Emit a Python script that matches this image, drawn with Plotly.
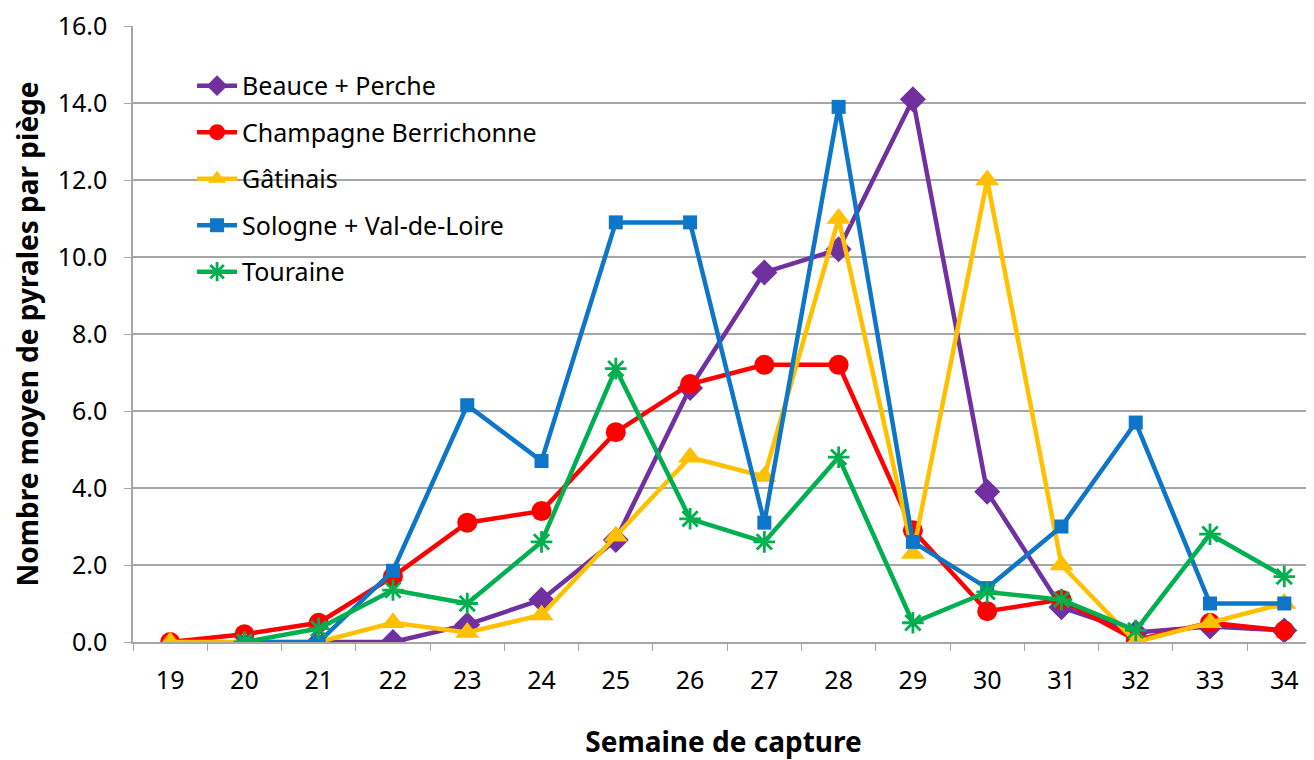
import plotly.graph_objects as go

weeks = ["19", "20", "21", "22", "23", "24", "25", "26", "27", "28", "29", "30", "31", "32", "33", "34"]
y_ticks = [0, 2, 4, 6, 8, 10, 12, 14, 16]

beauce = [None, None, 0.0, 0.0, 0.45, 1.1, 2.65, 6.6, 9.6, 10.2, 14.1, 3.9, 0.9, 0.25, 0.4, 0.3]
champagne = [0.0, 0.2, 0.5, 1.7, 3.1, 3.4, 5.45, 6.7, 7.2, 7.2, 2.9, 0.8, 1.1, 0.05, 0.5, 0.3]
gatinais = [0.0, 0.0, 0.0, 0.5, 0.25, 0.7, 2.75, 4.8, 4.3, 11.0, 2.3, 12.0, 2.0, 0.0, 0.5, 1.0]
sologne = [None, 0.0, 0.0, 1.85, 6.15, 4.7, 10.9, 10.9, 3.1, 13.9, 2.6, 1.4, 3.0, 5.7, 1.0, 1.0]
touraine = [None, 0.0, 0.35, 1.35, 1.0, 2.6, 7.1, 3.2, 2.6, 4.8, 0.5, 1.3, 1.1, 0.3, 2.8, 1.7]

series = [
    ("Beauce + Perche", beauce, "#7030A0", "diamond", 20),
    ("Champagne Berrichonne", champagne, "#FF0000", "circle", 20),
    ("Gâtinais", gatinais, "#FFC000", "triangle-up", 21),
    ("Sologne + Val-de-Loire", sologne, "#0E76C8", "square", 14),
    ("Touraine", touraine, "#00B050", "asterisk-open", 18),
]

fig = go.Figure()
for i, (name, vals, color, sym, size) in enumerate(series):
    fig.add_trace(go.Scatter(
        x=weeks, y=vals, name=name, mode="lines+markers",
        line=dict(color=color, width=4.5),
        marker=dict(symbol=sym, size=size, color=color,
                    line=dict(color=color, width=2.8 if sym == "asterisk-open" else 0)),
        legendgroup=f"g{i}",
    ))

font_family = "Noto Sans, Open Sans, sans-serif"

fig.update_layout(
    width=1306, height=752,
    margin=dict(l=125, r=0, t=18, b=118),
    paper_bgcolor="white", plot_bgcolor="white",
    font=dict(family=font_family, size=25, color="black"),
    showlegend=True,
    legend=dict(x=0.05, y=0.94, xanchor="left", yanchor="top",
                bgcolor="rgba(0,0,0,0)", font=dict(size=25),
                tracegroupgap=11, itemwidth=40),
    xaxis=dict(
        type="category", range=[-0.5, 15.4],
        showgrid=False, showline=True, linecolor="#A6A6A6", linewidth=1.5,
        ticks="outside", ticklen=7, tickcolor="#A6A6A6", tickson="boundaries",
        ticklabelstandoff=15,
        title=dict(text="<b>Semaine de capture</b>", font=dict(size=28), standoff=42),
    ),
    yaxis=dict(
        range=[0, 16.001], tickvals=y_ticks,
        tickformat=".1f", ticklabeloverflow="allow",
        showgrid=True, gridcolor="#A6A6A6", gridwidth=1.5,
        showline=True, linecolor="#A6A6A6", linewidth=1.5,
        ticks="outside", ticklen=7, tickcolor="#A6A6A6",
        ticklabelstandoff=12, zeroline=False,
        title=dict(text="<b>Nombre moyen de pyrales par piège</b>", font=dict(size=28), standoff=14),
    ),
)

fig.write_html("out.html")
